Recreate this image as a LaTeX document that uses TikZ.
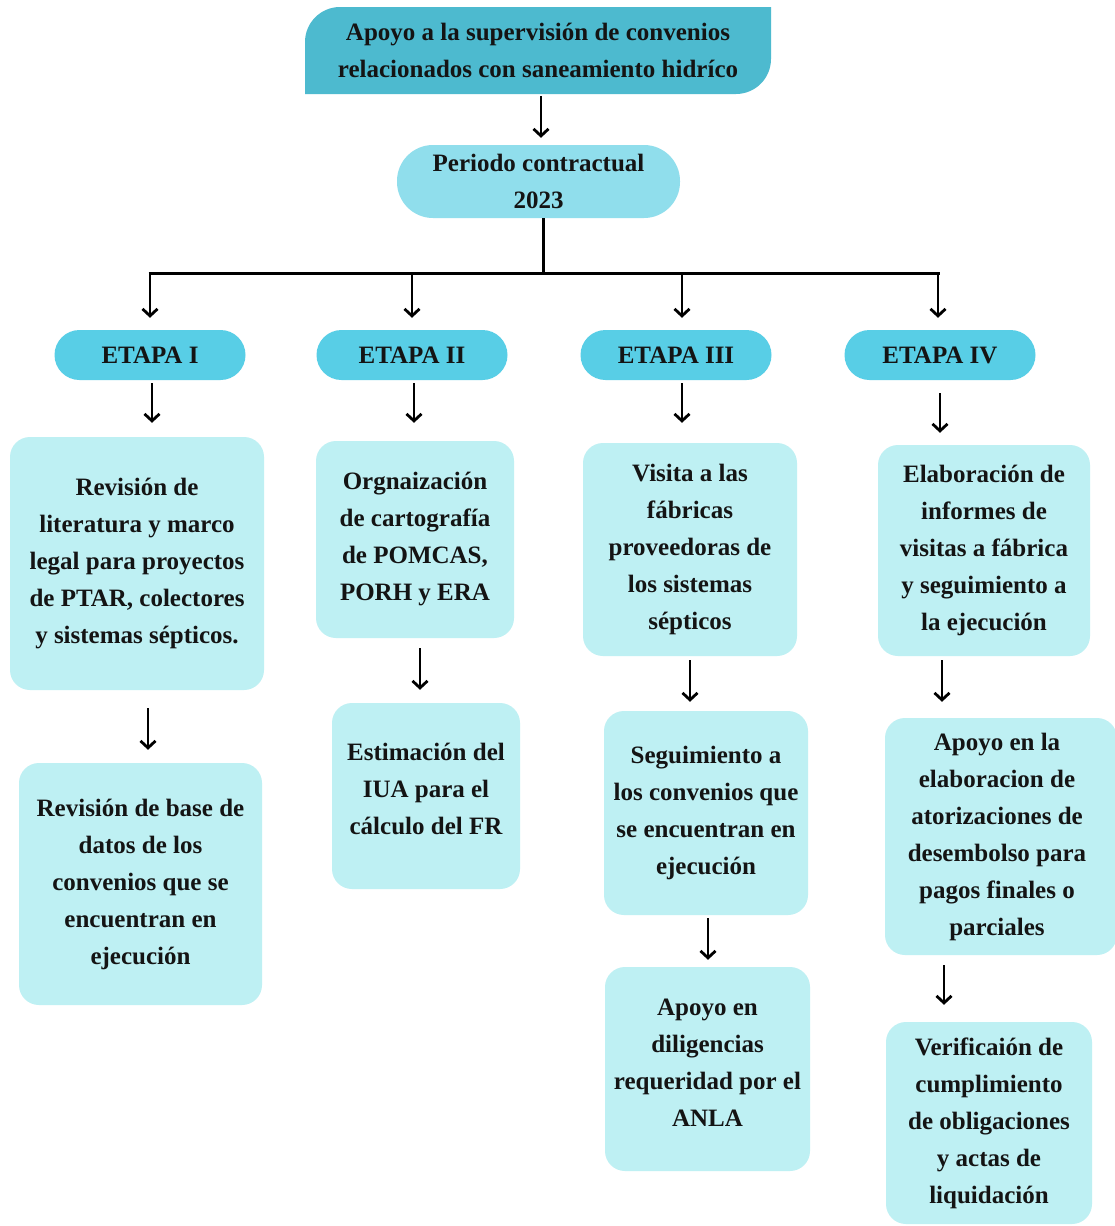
\documentclass[tikz,border=0pt]{standalone}
\usepackage{fontspec}
\setmainfont{Liberation Serif}
\usetikzlibrary{arrows.meta}
\definecolor{topcol}{RGB}{77,186,207}
\definecolor{percol}{RGB}{144,222,236}
\definecolor{etacol}{RGB}{88,206,230}
\definecolor{boxcol}{RGB}{190,240,243}
\definecolor{txtcol}{RGB}{20,20,20}
\begin{document}
\begin{tikzpicture}[x=1pt,y=-1pt,
  every node/.style={font=\bfseries\fontsize{25}{37}\selectfont, text=txtcol, align=center, inner sep=0pt},
  pill/.style={rounded corners=25pt, minimum width=191pt, minimum height=50pt, fill=etacol},
  card/.style={rounded corners=20pt, fill=boxcol},
  conn/.style={line width=3pt, draw=black},
  arr/.style={line width=2.8pt, draw=black, -{Straight Barb[length=7pt,width=15pt,line width=2.8pt]}}
]
\path[use as bounding box] (0,0) rectangle (1114,1226);
\fill[white] (0,0) rectangle (1114,1226);

% top box with two rounded corners
\fill[topcol] (305,94) -- (305,42) .. controls (305,22.7) and (320.7,7) .. (340,7) -- (771,7) -- (771,59) .. controls (771,78.3) and (755.3,94) .. (736,94) -- cycle;
\node[minimum width=466pt, minimum height=87pt] (top) at (538,50.5) {Apoyo a la supervisión de convenios\\relacionados con saneamiento hidríco};

\node[rounded corners=36pt, fill=percol, minimum width=283pt, minimum height=73pt] (per) at (538.5,181.5) {Periodo contractual\\2023};

\node[pill] (e1) at (150,355) {ETAPA I};
\node[pill] (e2) at (412,355) {ETAPA II};
\node[pill] (e3) at (676,355) {ETAPA III};
\node[pill] (e4) at (940,355) {ETAPA IV};

\node[card, minimum width=254pt, minimum height=253pt] (b1a) at (137,563.5) {Revisión de\\literatura y marco\\legal para proyectos\\de PTAR, colectores\\y sistemas sépticos.};
\node[card, minimum width=243pt, minimum height=242pt] (b1b) at (140.5,884) {Revisión de base de\\datos de los\\convenios que se\\encuentran en\\ejecución};

\node[card, minimum width=198pt, minimum height=197pt] (b2a) at (415,539.5) {Orgnaización\\de cartografía\\de POMCAS,\\PORH y ERA};
\node[card, minimum width=188pt, minimum height=186pt] (b2b) at (426,796) {};
\node at (426,789) {Estimación del\\IUA para el\\cálculo del FR};

\node[card, minimum width=214pt, minimum height=213pt] (b3a) at (690,549.5) {Visita a las\\fábricas\\proveedoras de\\los sistemas\\sépticos};
\node[card, minimum width=204pt, minimum height=204pt] (b3b) at (706,813) {Seguimiento a\\los convenios que\\se encuentran en\\ejecución};
\node[card, minimum width=205pt, minimum height=204pt] (b3c) at (707.5,1069) {};
\node at (707.5,1063) {Apoyo en\\diligencias\\requeridad por el\\ANLA};

\node[card, minimum width=212pt, minimum height=211pt] (b4a) at (984,550.5) {Elaboración de\\informes de\\visitas a fábrica\\y seguimiento a\\la ejecución};
\node[card, minimum width=232pt, minimum height=237pt] (b4b) at (1001,836.5) {};
\node at (997,836.5) {Apoyo en la\\elaboracion de\\atorizaciones de\\desembolso para\\pagos finales o\\parciales};
\node[card, minimum width=206pt, minimum height=202pt] (b4c) at (989,1123) {Verificaión de\\cumplimiento\\de obligaciones\\y actas de\\liquidación};

% connectors
\draw[arr, shorten <=2pt, shorten >=7pt] ([xshift=3pt]top.south) -- ([xshift=3pt]top.south |- per.north);
\coordinate (bus) at (543,273);
\draw[conn] ([xshift=4.5pt]per.south) -- ([xshift=4.5pt]per.south |- bus);
\draw[conn] ([xshift=-1.5pt]e1.north |- bus) -- ([xshift=-0.5pt]e4.north |- bus);
\draw[arr, shorten >=12pt] (e1.north |- bus) -- (e1.north);
\draw[arr, shorten >=12pt] (e2.north |- bus) -- (e2.north);
\draw[arr, shorten >=12pt] ([xshift=6pt]e3.north |- bus) -- ([xshift=6pt]e3.north);
\draw[arr, shorten >=12pt] ([xshift=-2pt]e4.north |- bus) -- ([xshift=-2pt]e4.north);

\draw[arr, shorten <=3pt, shorten >=14pt] ([xshift=2pt]e1.south) -- ([xshift=2pt]e1.south |- b1a.north);
\draw[arr, shorten <=18pt, shorten >=13pt] ([xshift=11pt]b1a.south) -- ([xshift=11pt]b1a.south |- b1b.north);
\draw[arr, shorten <=3pt, shorten >=18pt] ([xshift=2pt]e2.south) -- ([xshift=2pt]e2.south |- b2a.north);
\draw[arr, shorten <=10pt, shorten >=13pt] ([xshift=5pt]b2a.south) -- ([xshift=5pt]b2a.south |- b2b.north);
\draw[arr, shorten <=3pt, shorten >=20pt] ([xshift=6pt]e3.south) -- ([xshift=6pt]e3.south |- b3a.north);
\draw[arr, shorten <=4pt, shorten >=9pt] (b3a.south) -- (b3a.south |- b3b.north);
\draw[arr, shorten <=3pt, shorten >=7pt] ([xshift=2pt]b3b.south) -- ([xshift=2pt]b3b.south |- b3c.north);
\draw[arr, shorten <=13pt, shorten >=12pt] (e4.south) -- (e4.south |- b4a.north);
\draw[arr, shorten <=4pt, shorten >=16pt] ([xshift=-42pt]b4a.south) -- ([xshift=-42pt]b4a.south |- b4b.north);
\draw[arr, shorten <=10pt, shorten >=17pt] ([xshift=-57pt]b4b.south) -- ([xshift=-57pt]b4b.south |- b4c.north);
\end{tikzpicture}
\end{document}
